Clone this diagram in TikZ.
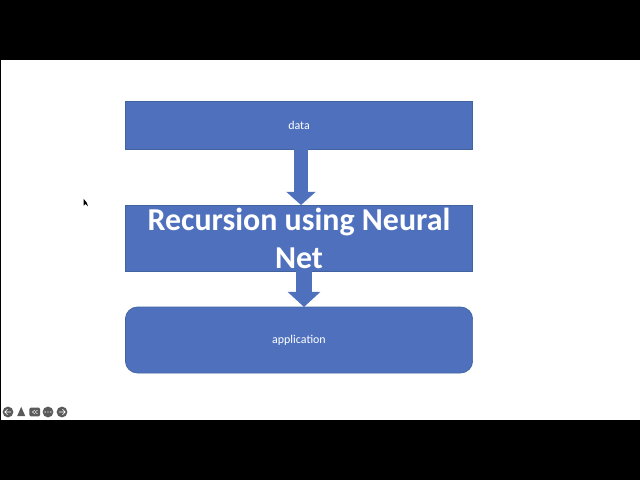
\documentclass[tikz,border=0pt]{standalone}
\usepackage{fontspec}
\setmainfont{Carlito}
\usetikzlibrary{arrows.meta}
\definecolor{boxblue}{HTML}{4F71BD}
\definecolor{boxline}{HTML}{41639F}
\definecolor{icongray}{HTML}{5A5A5A}
\tikzset{
  block/.style={draw=boxline,fill=boxblue,line width=0.5pt,minimum width=8.68cm,inner sep=0pt,text=white,font=\fontsize{8.5}{10}\selectfont},
  icon/.style={circle,fill=icongray,minimum size=0.27cm,inner sep=0pt},
}
\begin{document}
\begin{tikzpicture}
\useasboundingbox (0,0) rectangle (16,12);
\fill [black] (0,0) rectangle (16,12);
\fill [white] (0.03,1.5) rectangle (16,10.5);
% boxes
\node[block,minimum height=1.2cm] (data) at (7.475,8.875) {\raisebox{-0.7pt}{data}};
\node[block,minimum height=1.65cm] (net) at (7.475,6.05) {};
\node[block,minimum height=1.65cm,rounded corners=0.3cm] (app) at (7.475,3.5) {\raisebox{-0.7pt}{application}};
% arrows
\coordinate (a1) at (7.525,8.275);
\coordinate (a2) at (7.525,6.875);
\coordinate (b1) at (7.6,5.225);
\coordinate (b2) at (7.6,4.325);
\draw[boxblue,line width=0.37cm,-{Triangle[length=0.33cm,width=0.72cm]}] (a1) -- (a2);
\draw[boxblue,line width=0.4cm,-{Triangle[length=0.38cm,width=0.8cm]}] (b1) -- (b2);
% title
\node[align=center,text=white,font=\fontsize{22.7}{27}\selectfont\bfseries] (title) at (7.475,6.03) {Recursion using Neural\\Net};
% cursor
\fill [black] (2.09,7.03) -- (2.09,6.86) -- (2.14,6.9) -- (2.2,6.84) -- (2.17,6.93) -- cycle;
% slide controls
\node[icon] (prev) at (0.2,1.7) {};
\node[icon,rectangle,rounded corners=1pt,minimum width=0.27cm,minimum height=0.22cm] (view) at (0.87,1.7) {};
\node[icon] (more) at (1.2,1.7) {};
\node[icon] (next) at (1.55,1.7) {};
\fill [icongray] (0.43,1.6) -- (0.63,1.6) -- (0.53,1.83) -- cycle;
\draw[white,line width=0.4pt] (0.28,1.7) -- (0.12,1.7) (0.19,1.77) -- (0.12,1.7) -- (0.19,1.63);
\draw[white,line width=0.4pt] (1.47,1.7) -- (1.63,1.7) (1.56,1.77) -- (1.63,1.7) -- (1.56,1.63);
\draw[white,line width=0.3pt] (0.87,1.75) -- (0.81,1.7) -- (0.87,1.65) (0.94,1.75) -- (0.88,1.7) -- (0.94,1.65);
\fill [white] (1.13,1.7) circle (0.018) (1.2,1.7) circle (0.018) (1.27,1.7) circle (0.018);
\end{tikzpicture}
\end{document}
